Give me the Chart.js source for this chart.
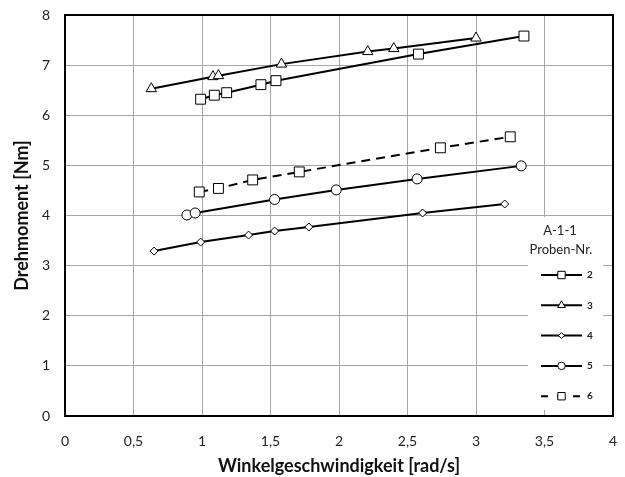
<!DOCTYPE html>
<html>
<head>
<meta charset="utf-8">
<script src="https://cdn.jsdelivr.net/npm/chart.js@4/dist/chart.umd.min.js"></script>
<style>
  html, body { margin: 0; padding: 0; background: #fff; }
  #wrap { width: 625px; height: 477px; }
</style>
</head>
<body>
<div id="wrap"><canvas id="chart" width="625" height="477"></canvas></div>
<script>
// Proben-Nr. 2..6 : Winkelgeschwindigkeit [rad/s] vs Drehmoment [Nm]
const probenNr = ['2', '3', '4', '5', '6'];

const speed2 = [0.99, 1.09, 1.18, 1.43, 1.54, 2.58, 3.35];
const torque2 = [6.32, 6.40, 6.45, 6.61, 6.69, 7.22, 7.58];

const speed3 = [0.63, 1.08, 1.12, 1.58, 2.21, 2.40, 3.00];
const torque3 = [6.53, 6.77, 6.79, 7.02, 7.27, 7.33, 7.54];

const speed4 = [0.65, 0.99, 1.34, 1.53, 1.78, 2.61, 3.21];
const torque4 = [3.29, 3.47, 3.61, 3.69, 3.77, 4.05, 4.23];

const speed5 = [0.89, 0.95, 1.53, 1.98, 2.57, 3.33];
const torque5 = [4.01, 4.05, 4.32, 4.51, 4.73, 4.99];

const speed6 = [0.98, 1.12, 1.37, 1.71, 2.74, 3.25];
const torque6 = [4.47, 4.54, 4.71, 4.87, 5.35, 5.57];

const xTicks = [0, 0.5, 1, 1.5, 2, 2.5, 3, 3.5, 4];
const yTicks = [0, 1, 2, 3, 4, 5, 6, 7, 8];

const toPoints = (xs, ys) => xs.map((x, i) => ({ x, y: ys[i] }));
const comma = v => String(v).replace('.', ',');

function series(label, xs, ys, style, radius, dash) {
  return {
    label,
    data: toPoints(xs, ys),
    showLine: true,
    borderColor: '#000',
    borderWidth: 2,
    borderDash: dash || [],
    pointStyle: style,
    pointRadius: radius,
    pointBackgroundColor: '#fff',
    pointBorderColor: '#000',
    pointBorderWidth: 1,
    fill: false
  };
}

const datasets = [
  series(probenNr[0], speed2, torque2, 'rect', 7),
  series(probenNr[1], speed3, torque3, 'triangle', 6),
  series(probenNr[2], speed4, torque4, 'rectRot', 4),
  series(probenNr[3], speed5, torque5, 'circle', 5),
  series(probenNr[4], speed6, torque6, 'rect', 7, [9, 6])
];

// frame + legend box drawn inside the plot area
const frameAndLegend = {
  id: 'frameAndLegend',
  afterDraw(chart) {
    const { ctx, chartArea: ca } = chart;
    ctx.save();
    // legend box
    const bx = ca.right - 85, bw = 75;
    const by = ca.top + 202, bh = 193;
    ctx.fillStyle = '#fff';
    ctx.fillRect(bx, by, bw, bh);

    ctx.fillStyle = '#222';
    ctx.font = '13px Lato';
    ctx.textAlign = 'center';
    ctx.textBaseline = 'middle';
    ctx.fillText('A-1-1', bx + 32, by + 14);
    ctx.fillText('Proben-Nr.', bx + 33, by + 33);

    chart.data.datasets.forEach((ds, i) => {
      const y = by + 58 + i * 30.3;
      const x0 = bx + 13, x1 = bx + 54, xm = (x0 + x1) / 2;
      ctx.strokeStyle = '#000';
      ctx.lineWidth = 2;
      ctx.setLineDash(ds.borderDash.length ? [7, 9] : []);
      ctx.beginPath();
      ctx.moveTo(x0, y);
      ctx.lineTo(x1, y);
      ctx.stroke();
      ctx.setLineDash([]);
      ctx.fillStyle = '#fff';
      ctx.lineWidth = 1;
      Chart.helpers.drawPoint(ctx, {
        pointStyle: ds.pointStyle,
        radius: ds.pointRadius * 0.75,
        borderWidth: 1
      }, xm, y);
      ctx.fillStyle = '#222';
      ctx.font = 'bold 10px Lato';
      ctx.textAlign = 'left';
      ctx.fillText(ds.label, x1 + 5, y);
    });

    // black frame
    ctx.strokeStyle = '#000';
    ctx.lineWidth = 2;
    ctx.strokeRect(ca.left, ca.top, ca.right - ca.left, ca.bottom - ca.top);
    ctx.restore();
  }
};

new Chart(document.getElementById('chart'), {
  type: 'scatter',
  data: { datasets },
  options: {
    responsive: false,
    animation: false,
    layout: { padding: { left: 0, right: 12, top: 15, bottom: 0 } },
    plugins: {
      legend: { display: false },
      tooltip: { enabled: false }
    },
    scales: {
      x: {
        type: 'linear',
        min: 0,
        max: 4,
        afterFit: s => { s.height = 61; s.paddingLeft = 0; s.paddingRight = 0; },
        afterBuildTicks: s => { s.ticks = xTicks.map(value => ({ value })); },
        grid: { color: '#a6a6a6', lineWidth: 1, drawTicks: false },
        border: { color: '#000', width: 2 },
        ticks: {
          color: '#222',
          font: { family: 'Lato', size: 14 },
          padding: 17,
          callback: v => comma(v)
        },
        title: {
          display: true,
          text: 'Winkelgeschwindigkeit [rad/s]',
          color: '#111',
          font: { family: 'Lato', size: 18, weight: 'bold' },
          padding: { top: 4, bottom: 0 }
        }
      },
      y: {
        type: 'linear',
        min: 0,
        max: 8,
        afterFit: s => { s.width = 65; s.paddingTop = 0; s.paddingBottom = 0; },
        afterBuildTicks: s => { s.ticks = yTicks.map(value => ({ value })); },
        grid: { color: '#a6a6a6', lineWidth: 1, drawTicks: false },
        border: { color: '#000', width: 2 },
        ticks: {
          color: '#222',
          font: { family: 'Lato', size: 14 },
          padding: 15,
          callback: v => comma(v)
        },
        title: {
          display: true,
          text: 'Drehmoment [Nm]',
          color: '#111',
          font: { family: 'Lato', size: 18, weight: 'bold' },
          padding: { top: 11, bottom: 0 }
        }
      }
    }
  },
  plugins: [frameAndLegend]
});
</script>
</body>
</html>
